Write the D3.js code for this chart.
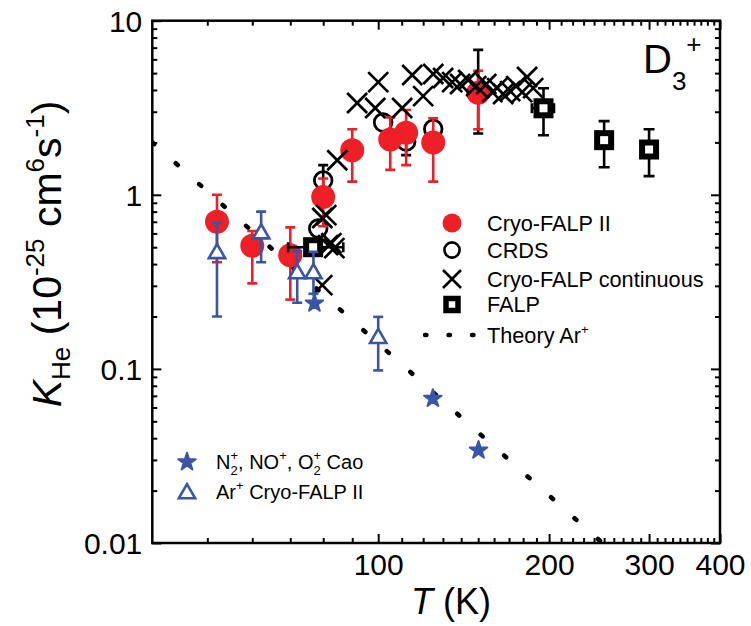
<!DOCTYPE html>
<html>
<head>
<meta charset="utf-8">
<script src="https://cdn.jsdelivr.net/npm/d3@7"></script>
<style>
  body { margin: 0; background: #fff; }
  svg { display: block; font-family: "Liberation Sans", Arial, Helvetica, sans-serif; }
</style>
</head>
<body>
<svg id="chart" width="751" height="626"></svg>
<script>
// ---- data: temperature T (K), rate coefficient K_He (1e-25 cm^6 s^-1) ----
const xMajorTicks = [100, 200, 300, 400];
const yMajorTicks = [0.01, 0.1, 1, 10];
const yTickLabels = ["0.01", "0.1", "1", "10"];

// Cryo-FALP II: [T, K, Klow, Khigh]
const cryoFalpII = [
  [52, 0.70, 0.41, 1.00],
  [60, 0.51, 0.31, 0.62],
  [70, 0.45, 0.25, 0.65],
  [80, 0.97, 0.66, 1.24],
  [90, 1.80, 1.19, 2.38],
  [105, 2.08, 1.39, 2.78],
  [112, 2.27, 1.48, 3.07],
  [125, 2.00, 1.19, 2.75],
  [150, 3.85, 2.38, 5.16]
];

// CRDS: [T, K, Klow, Khigh]
const crds = [
  [78.4, 0.64, null, null],
  [80, 1.21, 1.00, 1.48],
  [102, 2.60, null, null],
  [112, 2.02, 1.69, 2.40],
  [125, 2.39, null, null],
  [150, 3.90, 2.25, 6.80]
];

// Cryo-FALP continuous: [T, K]
const cryoFalpCont = [
  [79.7, 0.303], [79.7, 0.735], [81.0, 0.764], [81.6, 0.514], [82.7, 0.528],
  [83.7, 0.494], [84.7, 1.58], [91.8, 3.37], [98.8, 3.15], [100, 4.44],
  [110.2, 3.15], [114.8, 4.88], [120, 3.69], [125, 4.94], [130.1, 4.69],
  [135, 4.44], [139.4, 4.33], [144, 4.56], [148.8, 4.21], [155, 4.33],
  [158.8, 3.89], [162, 4.10], [166, 3.79], [170.8, 3.94], [175, 4.21],
  [179.3, 3.89], [182.9, 4.75], [187.5, 4.10]
];

// FALP: [T, K, Klow, Khigh, Tlow, Thigh]
const falp = [
  [76.8, 0.50, null, null, 69.4, 86.8],
  [195.5, 3.14, 2.20, 4.09, 186.5, 204],
  [250, 2.06, 1.44, 2.65, null, null],
  [300, 1.82, 1.28, 2.38, null, null]
];

// Ar+ Cryo-FALP II: [T, K, Klow, Khigh]
const arCryoFalpII = [
  [52, 0.47, 0.20, 0.69],
  [62.2, 0.61, 0.41, 0.80],
  [72, 0.36, 0.24, 0.475],
  [76.9, 0.36, 0.27, 0.47],
  [100, 0.153, 0.098, 0.199]
];

// N2+, NO+, O2+ (Cao): [T, K]
const caoIons = [
  [77.2, 0.238],
  [124.8, 0.0676],
  [150.2, 0.0341]
];

// Theory Ar+: straight line in log-log, [T, K]
const theoryAr = [[40, 2.0], [250, 0.0098]];

// ---- layout ----
const RED = "#ee1f26", BLUE = "#3a55a6";
const svg = d3.select("#chart");
const L = 152.3, R = 720, T = 20.7, B = 543;
const x = d3.scaleLog().domain([40, 400]).range([L, R]);
const y = d3.scaleLog().domain([0.01, 10]).range([B, T]);

const xMinor = d3.range(50, 400, 10).filter(v => !xMajorTicks.includes(v));
const yMinor = [];
[0.01, 0.1, 1].forEach(d => d3.range(2, 10).forEach(m => yMinor.push(+(m * d).toPrecision(3))));

// clip for the data area
svg.append("defs").append("clipPath").attr("id", "plotClip")
  .append("rect").attr("x", L).attr("y", T).attr("width", R - L).attr("height", B - T);

// axes with inward ticks on all four sides
function styleAxis(g) {
  g.select(".domain").remove();
  g.selectAll(".tick line").attr("stroke", "#000").attr("stroke-width", 2);
}
const majorLen = 9, minorLen = 5;
const axes = svg.append("g");
axes.append("g").attr("transform", `translate(0,${B})`)
  .call(d3.axisBottom(x).tickValues(xMinor).tickSize(-minorLen).tickFormat(""))
  .call(styleAxis);
axes.append("g").attr("transform", `translate(0,${B})`)
  .call(d3.axisBottom(x).tickValues(xMajorTicks).tickSize(-majorLen).tickFormat(d3.format("d")))
  .call(styleAxis)
  .call(g => g.selectAll("text").attr("font-size", 30).attr("fill", "#000").attr("dy", "0.71em")
    .attr("font-family", "Liberation Sans, Arial, sans-serif").attr("y", 11));
axes.append("g").attr("transform", `translate(0,${T})`)
  .call(d3.axisTop(x).tickValues(xMinor).tickSize(-minorLen).tickFormat(""))
  .call(styleAxis);
axes.append("g").attr("transform", `translate(0,${T})`)
  .call(d3.axisTop(x).tickValues(xMajorTicks).tickSize(-majorLen).tickFormat(""))
  .call(styleAxis);
axes.append("g").attr("transform", `translate(${L},0)`)
  .call(d3.axisLeft(y).tickValues(yMinor).tickSize(-minorLen).tickFormat(""))
  .call(styleAxis);
axes.append("g").attr("transform", `translate(${L},0)`)
  .call(d3.axisLeft(y).tickValues(yMajorTicks).tickSize(-majorLen)
    .tickFormat((d, i) => yTickLabels[i]))
  .call(styleAxis)
  .call(g => g.selectAll("text").attr("font-size", 30).attr("fill", "#000")
    .attr("font-family", "Liberation Sans, Arial, sans-serif").attr("x", -10).attr("dy", "0.36em"));
axes.append("g").attr("transform", `translate(${R},0)`)
  .call(d3.axisRight(y).tickValues(yMinor).tickSize(-minorLen).tickFormat(""))
  .call(styleAxis);
axes.append("g").attr("transform", `translate(${R},0)`)
  .call(d3.axisRight(y).tickValues(yMajorTicks).tickSize(-majorLen).tickFormat(""))
  .call(styleAxis);

svg.append("rect").attr("x", L).attr("y", T).attr("width", R - L).attr("height", B - T)
  .attr("fill", "none").attr("stroke", "#000").attr("stroke-width", 2.5);

const plot = svg.append("g").attr("clip-path", "url(#plotClip)");

// theory line (dotted)
plot.append("path")
  .datum(theoryAr)
  .attr("d", d3.line().x(d => x(d[0])).y(d => y(d[1])))
  .attr("fill", "none").attr("stroke", "#000").attr("stroke-width", 4.6)
  .attr("stroke-linecap", "round").attr("stroke-dasharray", "2.6 28.8");

// vertical error bars with caps
function vErr(g, data, color, cap) {
  const rows = data.filter(d => d[2] != null);
  const eg = g.append("g").attr("stroke", color).attr("stroke-width", 2.6);
  eg.selectAll(".v").data(rows).join("line")
    .attr("x1", d => x(d[0])).attr("x2", d => x(d[0]))
    .attr("y1", d => y(d[2])).attr("y2", d => y(d[3]));
  ["lo", "hi"].forEach((k, i) => {
    eg.selectAll(".c" + k).data(rows).join("line")
      .attr("x1", d => x(d[0]) - cap).attr("x2", d => x(d[0]) + cap)
      .attr("y1", d => y(d[2 + i])).attr("y2", d => y(d[2 + i]));
  });
}
// horizontal error bars with caps
function hErr(g, data, color, cap) {
  const rows = data.filter(d => d[4] != null);
  const eg = g.append("g").attr("stroke", color).attr("stroke-width", 2.6);
  eg.selectAll(".h").data(rows).join("line")
    .attr("x1", d => x(d[4])).attr("x2", d => x(d[5]))
    .attr("y1", d => y(d[1])).attr("y2", d => y(d[1]));
  ["lo", "hi"].forEach((k, i) => {
    eg.selectAll(".c" + k).data(rows).join("line")
      .attr("x1", d => x(d[4 + i])).attr("x2", d => x(d[4 + i]))
      .attr("y1", d => y(d[1]) - cap).attr("y2", d => y(d[1]) + cap);
  });
}

// CRDS (open circles)
vErr(plot, crds, "#000", 5);
plot.append("g").selectAll("circle").data(crds).join("circle")
  .attr("cx", d => x(d[0])).attr("cy", d => y(d[1])).attr("r", 8.8)
  .attr("fill", "none").attr("stroke", "#000").attr("stroke-width", 2.8);

// Cryo-FALP II (filled red circles)
vErr(plot, cryoFalpII, RED, 5);
plot.append("g").selectAll("circle").data(cryoFalpII).join("circle")
  .attr("cx", d => x(d[0])).attr("cy", d => y(d[1])).attr("r", 12)
  .attr("fill", RED);

// Cryo-FALP continuous (crosses)
const crossPath = s => `M${-s},${-s}L${s},${s}M${-s},${s}L${s},${-s}`;
plot.append("g").selectAll("path").data(cryoFalpCont).join("path")
  .attr("transform", d => `translate(${x(d[0])},${y(d[1])})`)
  .attr("d", crossPath(10))
  .attr("fill", "none").attr("stroke", "#000").attr("stroke-width", 2.7);

// FALP (thick open squares)
vErr(plot, falp, "#000", 5.5);
hErr(plot, falp, "#000", 5);
plot.append("g").selectAll("rect").data(falp).join("rect")
  .attr("x", d => x(d[0]) - 7).attr("y", d => y(d[1]) - 7)
  .attr("width", 14).attr("height", 14)
  .attr("fill", "#fff").attr("stroke", "#000").attr("stroke-width", 6);

// Ar+ Cryo-FALP II (open blue triangles)
vErr(plot, arCryoFalpII, BLUE, 5);
const tri = d3.symbol().type(d3.symbolTriangle).size(115);
plot.append("g").selectAll("path").data(arCryoFalpII).join("path")
  .attr("transform", d => `translate(${x(d[0])},${y(d[1]) + 1.5})`)
  .attr("d", tri())
  .attr("fill", "#fff").attr("stroke", BLUE).attr("stroke-width", 2.6);

// N2+, NO+, O2+ Cao (blue stars)
const star = d3.symbol().type(d3.symbolStar).size(95);
plot.append("g").selectAll("path").data(caoIons).join("path")
  .attr("transform", d => `translate(${x(d[0])},${y(d[1])})`)
  .attr("d", star())
  .attr("fill", BLUE).attr("stroke", BLUE).attr("stroke-width", 2).attr("stroke-linejoin", "round");

// ---- rich text helper: runs of text with sub/superscripts, optional stacking ----
function rich(parent, px, py, parts, opts = {}) {
  const g = parent.append("g");
  const inner = g.append("g");
  let cx = 0;
  const place = (p, x0) => {
    const t = inner.append("text").attr("x", x0).attr("y", p.dy || 0)
      .attr("font-size", p.size).attr("fill", "#000")
      .attr("font-style", p.italic ? "italic" : null)
      .style("white-space", "pre").text(p.t);
    return t.node().getComputedTextLength();
  };
  parts.forEach(p => {
    if (p.stack) cx += Math.max(...p.stack.map(q => place(q, cx)));
    else cx += place(p, cx);
  });
  const shift = opts.anchor === "middle" ? -cx / 2 : opts.anchor === "end" ? -cx : 0;
  inner.attr("transform", `translate(${shift},0)`);
  g.attr("transform", `translate(${px},${py})` + (opts.rotate ? ` rotate(${opts.rotate})` : ""));
  return g;
}

// axis titles
rich(svg, 451, 614, [{ t: "T", size: 36, italic: true }, { t: " (K)", size: 36 }], { anchor: "middle" });
rich(svg, 61, 254, [
  { t: "K", size: 41, italic: true }, { t: "He", size: 26, dy: 9 },
  { t: " (10", size: 41 }, { t: "-25", size: 26, dy: -17 },
  { t: " cm", size: 41 }, { t: "6", size: 26, dy: -17 },
  { t: "s", size: 41 }, { t: "-1", size: 26, dy: -17 },
  { t: ")", size: 41 }
], { anchor: "middle", rotate: -90 });

// ion label
rich(svg, 643, 73, [{ t: "D", size: 40 }, { t: "3", size: 26, dy: 17 }, { t: "+", size: 26, dy: -20 }]);

// ---- legend (upper right) ----
const lg = svg.append("g");
const lx = 452, tx = 487, fs = 21.7;
const rows = [223, 250, 279, 304.5, 335];
lg.append("circle").attr("cx", lx).attr("cy", rows[0]).attr("r", 9.5).attr("fill", RED);
lg.append("circle").attr("cx", lx).attr("cy", rows[1]).attr("r", 7.6)
  .attr("fill", "none").attr("stroke", "#000").attr("stroke-width", 2.6);
lg.append("path").attr("transform", `translate(${lx},${rows[2]})`).attr("d", crossPath(9))
  .attr("fill", "none").attr("stroke", "#000").attr("stroke-width", 2.6);
lg.append("rect").attr("x", lx - 6).attr("y", rows[3] - 6).attr("width", 12).attr("height", 12)
  .attr("fill", "#fff").attr("stroke", "#000").attr("stroke-width", 5.5);
lg.append("line").attr("x1", 425).attr("x2", 474).attr("y1", rows[4]).attr("y2", rows[4])
  .attr("stroke", "#000").attr("stroke-width", 4.4).attr("stroke-linecap", "round")
  .attr("stroke-dasharray", "1.5 22");
const legendTexts = ["Cryo-FALP II", "CRDS", "Cryo-FALP continuous", "FALP"];
legendTexts.forEach((t, i) => rich(lg, tx, rows[i] + 7.7, [{ t, size: fs }]));
rich(lg, tx, rows[4] + 7.7, [{ t: "Theory Ar", size: fs }, { t: "+", size: 13, dy: -9 }]);

// ---- legend (lower left) ----
const lg2 = svg.append("g");
lg2.append("path").attr("transform", `translate(187,462)`).attr("d", star())
  .attr("fill", BLUE).attr("stroke", BLUE).attr("stroke-width", 2).attr("stroke-linejoin", "round");
lg2.append("path").attr("transform", `translate(187,493.5)`).attr("d", tri())
  .attr("fill", "#fff").attr("stroke", BLUE).attr("stroke-width", 2.6);
const fs2 = 20, ss = 13;
rich(lg2, 216, 469, [
  { t: "N", size: fs2 },
  { stack: [{ t: "+", size: ss, dy: -9 }, { t: "2", size: ss, dy: 6 }] },
  { t: ", NO", size: fs2 }, { t: "+", size: ss, dy: -9 },
  { t: ", O", size: fs2 },
  { stack: [{ t: "+", size: ss, dy: -9 }, { t: "2", size: ss, dy: 6 }] },
  { t: " Cao", size: fs2 }
]);
rich(lg2, 216, 499, [{ t: "Ar", size: fs2 }, { t: "+", size: ss, dy: -9 }, { t: " Cryo-FALP II", size: fs2 }]);
</script>
</body>
</html>
